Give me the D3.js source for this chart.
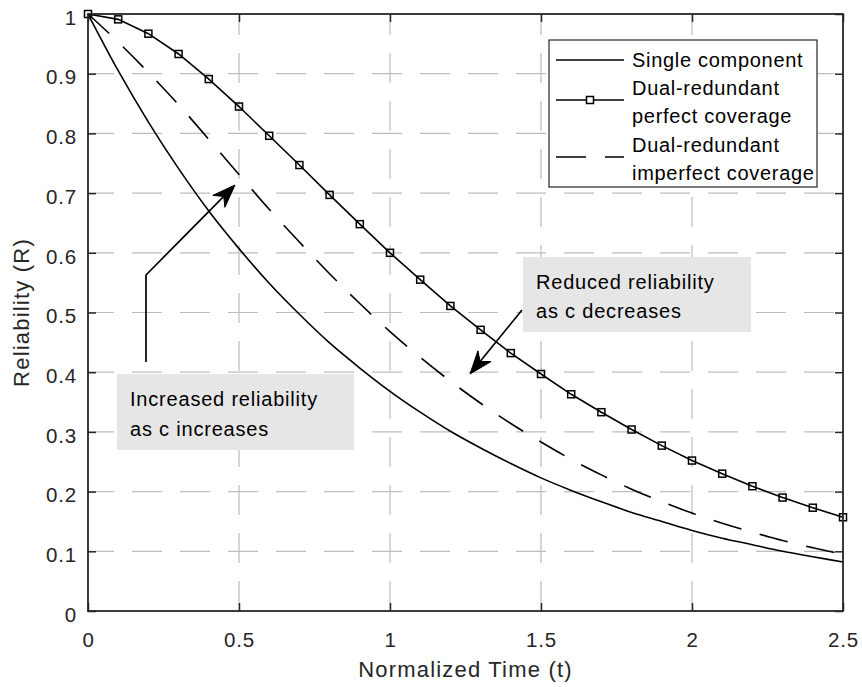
<!DOCTYPE html>
<html>
<head>
<meta charset="utf-8">
<script src="https://cdn.jsdelivr.net/npm/d3@7"></script>
<style>
  body { margin: 0; background: #fff; }
  text { font-family: "Liberation Sans", Arial, Helvetica, sans-serif; }
</style>
</head>
<body>
<div id="chart"></div>
<script>
// Data
const time = [0, 0.1, 0.2, 0.3, 0.4, 0.5, 0.6, 0.7, 0.8, 0.9, 1.0, 1.1, 1.2,
              1.3, 1.4, 1.5, 1.6, 1.7, 1.8, 1.9, 2.0, 2.1, 2.2, 2.3, 2.4, 2.5];
const single = [1.000, 0.905, 0.819, 0.741, 0.670, 0.607, 0.549, 0.497, 0.449, 0.407, 0.368, 0.333, 0.301,
                0.273, 0.247, 0.223, 0.202, 0.183, 0.165, 0.150, 0.135, 0.122, 0.111, 0.100, 0.091, 0.082];
const perfect = [1.000, 0.991, 0.967, 0.933, 0.891, 0.845, 0.796, 0.747, 0.697, 0.648, 0.600, 0.555, 0.511,
                 0.471, 0.432, 0.397, 0.363, 0.333, 0.304, 0.277, 0.252, 0.230, 0.209, 0.190, 0.173, 0.157];
const imperfect = [1.000, 0.953, 0.902, 0.848, 0.790, 0.731, 0.673, 0.618, 0.565, 0.515, 0.468, 0.425, 0.385,
                   0.348, 0.314, 0.283, 0.254, 0.228, 0.204, 0.183, 0.164, 0.147, 0.132, 0.118, 0.106, 0.095];

const xTicks = [0, 0.5, 1, 1.5, 2, 2.5];
const xTickLabels = ["0", "0.5", "1", "1.5", "2", "2.5"];
const yTicks = [0, 0.1, 0.2, 0.3, 0.4, 0.5, 0.6, 0.7, 0.8, 0.9, 1];
const yTickLabels = ["0", "0.1", "0.2", "0.3", "0.4", "0.5", "0.6", "0.7", "0.8", "0.9", "1"];

const legendLabels = [["Single component"], ["Dual-redundant", "perfect coverage"], ["Dual-redundant", "imperfect coverage"]];

// Plot area in pixels
const W = 862, H = 687;
const pLeft = 88, pRight = 843, pTop = 14, pBottom = 611;
const axisColor = "#262626";

const svg = d3.select("#chart").append("svg")
    .attr("width", W)
    .attr("height", H);

svg.append("rect").attr("width", W).attr("height", H).attr("fill", "#fff");

const x = d3.scaleLinear().domain([0, 2.5]).range([pLeft, pRight]);
const y = d3.scaleLinear().domain([0, 1]).range([pBottom, pTop]);

// Grid lines (dashed, light gray)
const grid = svg.append("g").attr("stroke", "#bdbdbd").attr("stroke-width", 1.2)
    .attr("stroke-dasharray", "30,18");
xTicks.slice(1, -1).forEach(t => {
    grid.append("line")
        .attr("x1", x(t)).attr("x2", x(t))
        .attr("y1", pBottom).attr("y2", pTop);
});
yTicks.slice(1, -1).forEach(t => {
    grid.append("line")
        .attr("x1", pLeft).attr("x2", pRight)
        .attr("y1", y(t)).attr("y2", y(t))
        .attr("stroke-dashoffset", 4);
});

// Axes with inward ticks
const fmtX = (d, i) => xTickLabels[i];
const fmtY = (d, i) => yTickLabels[i];

const xAxis = svg.append("g")
    .attr("transform", `translate(0,${pBottom})`)
    .call(d3.axisBottom(x).tickValues(xTicks).tickFormat(fmtX).tickSize(-8).tickPadding(21));
const yAxis = svg.append("g")
    .attr("transform", `translate(${pLeft},0)`)
    .call(d3.axisLeft(y).tickValues(yTicks).tickFormat(fmtY).tickSize(-8).tickPadding(11));
svg.append("g")
    .attr("transform", `translate(0,${pTop})`)
    .call(d3.axisTop(x).tickValues(xTicks).tickFormat("").tickSize(-8));
svg.append("g")
    .attr("transform", `translate(${pRight},0)`)
    .call(d3.axisRight(y).tickValues(yTicks).tickFormat("").tickSize(-8));

svg.selectAll(".domain").remove();
svg.selectAll(".tick line").attr("stroke", axisColor).attr("stroke-width", 1.5);
svg.selectAll(".tick text")
    .attr("fill", axisColor)
    .style("font-size", "20.5px")
    .style("letter-spacing", "0.8px")
    .style("font-family", '"Liberation Sans", Arial, sans-serif');
yAxis.selectAll(".tick text").attr("dy", "0.5em");
xAxis.selectAll(".tick text").attr("dy", "0.72em");

// Curves
const pts = arr => arr.map((v, i) => [time[i], v]);
const smooth = d3.line().x(d => x(d[0])).y(d => y(d[1])).curve(d3.curveMonotoneX);
const straight = d3.line().x(d => x(d[0])).y(d => y(d[1]));

svg.append("path")
    .attr("d", smooth(pts(single)))
    .attr("fill", "none").attr("stroke", "#000").attr("stroke-width", 1.6);

svg.append("path")
    .attr("d", smooth(pts(imperfect)))
    .attr("fill", "none").attr("stroke", "#000").attr("stroke-width", 1.6)
    .attr("stroke-dasharray", "29,19");

svg.append("path")
    .attr("d", straight(pts(perfect)))
    .attr("fill", "none").attr("stroke", "#000").attr("stroke-width", 1.6);

const ms = 7;
svg.append("g").selectAll("rect")
    .data(pts(perfect))
    .enter().append("rect")
    .attr("x", d => x(d[0]) - ms / 2)
    .attr("y", d => y(d[1]) - ms / 2)
    .attr("width", ms).attr("height", ms)
    .attr("fill", "none").attr("stroke", "#000").attr("stroke-width", 1.5);

// Axes box
svg.append("rect")
    .attr("x", pLeft).attr("y", pTop)
    .attr("width", pRight - pLeft).attr("height", pBottom - pTop)
    .attr("fill", "none").attr("stroke", axisColor).attr("stroke-width", 1.8);

// Axis labels
svg.append("text")
    .attr("x", (pLeft + pRight) / 2)
    .attr("y", 677)
    .attr("text-anchor", "middle")
    .attr("fill", axisColor)
    .style("font-size", "22px")
    .style("letter-spacing", "1.2px")
    .text("Normalized Time (t)");

svg.append("text")
    .attr("transform", `translate(29,${(pTop + pBottom) / 2}) rotate(-90)`)
    .attr("text-anchor", "middle")
    .attr("fill", axisColor)
    .style("font-size", "22px")
    .style("letter-spacing", "1.2px")
    .text("Reliability (R)");

// Legend
const legend = svg.append("g");
legend.append("rect")
    .attr("x", 549).attr("y", 40)
    .attr("width", 268).attr("height", 147)
    .attr("fill", "#fff").attr("stroke", axisColor).attr("stroke-width", 1.2);

const sampleY = [60, 100, 157];
const textY = [[67], [95, 123], [152, 180]];
legend.append("line").attr("x1", 556).attr("x2", 624).attr("y1", sampleY[0]).attr("y2", sampleY[0])
    .attr("stroke", "#000").attr("stroke-width", 1.6);
legend.append("line").attr("x1", 556).attr("x2", 624).attr("y1", sampleY[1]).attr("y2", sampleY[1])
    .attr("stroke", "#000").attr("stroke-width", 1.6);
legend.append("rect").attr("x", 590 - ms / 2).attr("y", sampleY[1] - ms / 2)
    .attr("width", ms).attr("height", ms)
    .attr("fill", "#fff").attr("stroke", "#000").attr("stroke-width", 1.5);
legend.append("line").attr("x1", 556).attr("x2", 624).attr("y1", sampleY[2]).attr("y2", sampleY[2])
    .attr("stroke", "#000").attr("stroke-width", 1.6).attr("stroke-dasharray", "30,19");

legendLabels.forEach((lines, i) => {
    lines.forEach((s, j) => {
        legend.append("text")
            .attr("x", 632).attr("y", textY[i][j])
            .attr("fill", "#000")
            .style("font-size", "20px")
            .style("letter-spacing", "0.7px")
            .text(s);
    });
});

// Annotations: gray text boxes and arrows
function textBox(bx, by, bw, bh, lines, tx, ty) {
    svg.append("rect")
        .attr("x", bx).attr("y", by).attr("width", bw).attr("height", bh)
        .attr("fill", "#e6e6e6");
    lines.forEach((s, i) => {
        svg.append("text")
            .attr("x", tx).attr("y", ty[i])
            .attr("fill", "#000")
            .style("font-size", "20px")
            .style("letter-spacing", "0.8px")
            .text(s);
    });
}

function arrow(points) {
    const n = points.length;
    const tip = points[n - 1], prev = points[n - 2];
    const dx = tip[0] - prev[0], dy = tip[1] - prev[1];
    const len = Math.hypot(dx, dy);
    const ux = dx / len, uy = dy / len;
    const px = -uy, py = ux;
    const L = 23, Wd = 8.5, notch = 16;
    const bx = tip[0] - L * ux, by = tip[1] - L * uy;
    const nx = tip[0] - notch * ux, ny = tip[1] - notch * uy;
    const shaft = points.slice(0, n - 1).concat([[nx, ny]]);
    svg.append("path")
        .attr("d", d3.line()(shaft))
        .attr("fill", "none").attr("stroke", "#000").attr("stroke-width", 1.7);
    svg.append("path")
        .attr("d", `M${tip[0]},${tip[1]}L${bx + Wd * px},${by + Wd * py}L${nx},${ny}L${bx - Wd * px},${by - Wd * py}Z`)
        .attr("fill", "#000").attr("stroke", "#000").attr("stroke-width", 1)
        .attr("stroke-linejoin", "miter");
}

textBox(117, 374, 237, 76, ["Increased reliability", "as c increases"], 130, [406, 436]);
arrow([[146, 362], [146, 275], [235, 185]]);

textBox(523, 257, 228, 75, ["Reduced reliability", "as c decreases"], 536, [289, 318]);
arrow([[522, 310], [470, 374]]);
</script>
</body>
</html>
